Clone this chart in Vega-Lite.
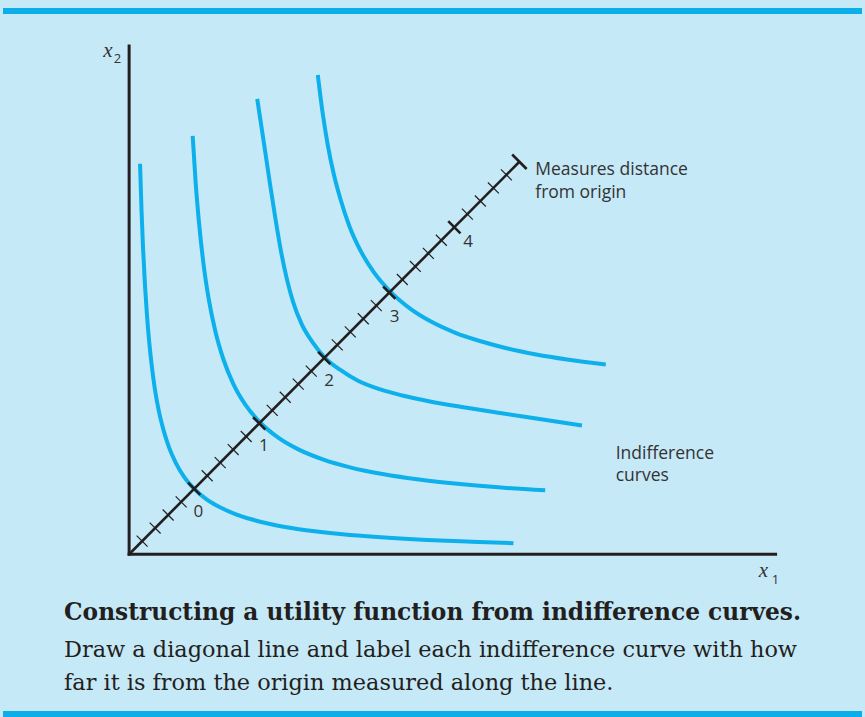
{
  "$schema": "https://vega.github.io/schema/vega-lite/v6.json",
  "width": 865,
  "height": 717,
  "autosize": {"type": "fit", "contains": "padding"},
  "padding": 0,
  "background": "#c6e9f8",
  "config": {"view": {"stroke": null}},
  "datasets": {
    "curves": [
      {"curve": 0, "x": 1.1, "y": 39.1}, {"curve": 0, "x": 1.25, "y": 34.4}, {"curve": 0, "x": 1.4, "y": 30.7}, {"curve": 0, "x": 1.6, "y": 26.9}, {"curve": 0, "x": 1.8, "y": 23.9}, {"curve": 0, "x": 2.0, "y": 21.5}, {"curve": 0, "x": 2.3, "y": 18.7}, {"curve": 0, "x": 2.6, "y": 16.5}, {"curve": 0, "x": 3.0, "y": 14.3}, {"curve": 0, "x": 3.5, "y": 12.3}, {"curve": 0, "x": 4.0, "y": 10.75}, {"curve": 0, "x": 4.7, "y": 9.15}, {"curve": 0, "x": 5.5, "y": 7.8}, {"curve": 0, "x": 6.56, "y": 6.55}, {"curve": 0, "x": 7.8, "y": 5.5}, {"curve": 0, "x": 9.15, "y": 4.7}, {"curve": 0, "x": 10.75, "y": 4.0}, {"curve": 0, "x": 12.3, "y": 3.5}, {"curve": 0, "x": 14.3, "y": 3.0}, {"curve": 0, "x": 16.5, "y": 2.6}, {"curve": 0, "x": 18.7, "y": 2.3}, {"curve": 0, "x": 21.5, "y": 2.0}, {"curve": 0, "x": 25.0, "y": 1.72}, {"curve": 0, "x": 30.0, "y": 1.43}, {"curve": 0, "x": 34.5, "y": 1.25}, {"curve": 0, "x": 38.7, "y": 1.11},
      {"curve": 1, "x": 6.4, "y": 41.9}, {"curve": 1, "x": 6.7, "y": 37.2}, {"curve": 1, "x": 7.0, "y": 33.6}, {"curve": 1, "x": 7.5, "y": 29.0}, {"curve": 1, "x": 8.0, "y": 25.65}, {"curve": 1, "x": 8.7, "y": 22.25}, {"curve": 1, "x": 9.5, "y": 19.5}, {"curve": 1, "x": 10.5, "y": 17.04}, {"curve": 1, "x": 11.7, "y": 14.98}, {"curve": 1, "x": 13.19, "y": 13.19}, {"curve": 1, "x": 14.98, "y": 11.7}, {"curve": 1, "x": 17.04, "y": 10.5}, {"curve": 1, "x": 19.5, "y": 9.5}, {"curve": 1, "x": 22.25, "y": 8.7}, {"curve": 1, "x": 25.65, "y": 8.0}, {"curve": 1, "x": 29.0, "y": 7.5}, {"curve": 1, "x": 33.6, "y": 7.0}, {"curve": 1, "x": 37.2, "y": 6.7}, {"curve": 1, "x": 41.9, "y": 6.4},
      {"curve": 2, "x": 12.9, "y": 45.6}, {"curve": 2, "x": 13.6, "y": 41.0}, {"curve": 2, "x": 14.2, "y": 37.0}, {"curve": 2, "x": 14.75, "y": 33.5}, {"curve": 2, "x": 15.3, "y": 30.3}, {"curve": 2, "x": 15.9, "y": 27.5}, {"curve": 2, "x": 16.5, "y": 25.3}, {"curve": 2, "x": 17.4, "y": 23.0}, {"curve": 2, "x": 18.5, "y": 21.2}, {"curve": 2, "x": 19.7, "y": 19.7}, {"curve": 2, "x": 21.2, "y": 18.5}, {"curve": 2, "x": 23.0, "y": 17.4}, {"curve": 2, "x": 25.3, "y": 16.5}, {"curve": 2, "x": 27.5, "y": 15.9}, {"curve": 2, "x": 30.3, "y": 15.3}, {"curve": 2, "x": 33.5, "y": 14.75}, {"curve": 2, "x": 37.0, "y": 14.2}, {"curve": 2, "x": 41.0, "y": 13.6}, {"curve": 2, "x": 45.6, "y": 12.9},
      {"curve": 3, "x": 19.0, "y": 48.0}, {"curve": 3, "x": 19.5, "y": 44.1}, {"curve": 3, "x": 20.0, "y": 41.0}, {"curve": 3, "x": 20.6, "y": 38.1}, {"curve": 3, "x": 21.3, "y": 35.5}, {"curve": 3, "x": 22.2, "y": 32.8}, {"curve": 3, "x": 23.3, "y": 30.4}, {"curve": 3, "x": 24.6, "y": 28.3}, {"curve": 3, "x": 26.3, "y": 26.3}, {"curve": 3, "x": 28.3, "y": 24.6}, {"curve": 3, "x": 30.4, "y": 23.3}, {"curve": 3, "x": 32.8, "y": 22.2}, {"curve": 3, "x": 35.5, "y": 21.3}, {"curve": 3, "x": 38.1, "y": 20.6}, {"curve": 3, "x": 41.0, "y": 20.0}, {"curve": 3, "x": 44.1, "y": 19.5}, {"curve": 3, "x": 48.0, "y": 19.0}
    ],
    "axes": [
      {"x": 0, "y": 0, "x2": 0, "y2": 50.9},
      {"x": 0, "y": 0, "x2": 65.1, "y2": 0}
    ],
    "diagonal": [{"x": 0, "y": 0, "x2": 39.3, "y2": 39.3}],
    "minorTicks": [
      {"c": 1.31}, {"c": 2.62}, {"c": 3.93}, {"c": 5.24}, {"c": 7.86}, {"c": 9.17}, {"c": 10.48}, {"c": 11.79}, {"c": 14.41}, {"c": 15.72}, {"c": 17.03}, {"c": 18.34}, {"c": 20.96}, {"c": 22.27}, {"c": 23.58}, {"c": 24.89}, {"c": 27.51}, {"c": 28.82}, {"c": 30.13}, {"c": 31.44}, {"c": 34.06}, {"c": 35.37}, {"c": 36.68}, {"c": 37.99}
    ],
    "majorTicks": [{"c": 6.55, "label": "0"}, {"c": 13.1, "label": "1"}, {"c": 19.65, "label": "2"}, {"c": 26.2, "label": "3"}, {"c": 32.75, "label": "4"}],
    "endTick": [{"c": 39.3}],
    "numLabels": [
      {"x": 6.97, "y": 4.2, "text": "0"}, {"x": 13.57, "y": 10.83, "text": "1"}, {"x": 20.13, "y": 17.33, "text": "2"}, {"x": 26.73, "y": 23.77, "text": "3"}, {"x": 34.13, "y": 31.23, "text": "4"}
    ],
    "notes": [
      {"x": 40.9, "y": 37.95, "text": "Measures distance"}, {"x": 40.9, "y": 35.7, "text": "from origin"},
      {"x": 49.0, "y": 9.55, "text": "Indifference"}, {"x": 49.0, "y": 7.35, "text": "curves"}
    ],
    "axisVars": [{"x": 63.4, "y": -2.3, "text": "x"}, {"x": -2.6, "y": 49.8, "text": "x"}],
    "axisSubs": [{"x": 64.7, "y": -3.0, "text": "1"}, {"x": -1.55, "y": 49.2, "text": "2"}],
    "captionBold": [{"x": -6.55, "y": -6.6, "text": "Constructing a utility function from indifference curves."}],
    "captionBody": [{"x": -6.55, "y": -10.25, "text": "Draw a diagonal line and label each indifference curve with how"}, {"x": -6.55, "y": -13.55, "text": "far it is from the origin measured along the line."}],
    "bands": [{"y": 54.4}, {"y": -16.0}]
  },
  "encoding": {
    "x": {"field": "x", "type": "quantitative", "scale": {"domain": [-12.7, 73.8], "nice": false, "zero": false}, "axis": null},
    "y": {"field": "y", "type": "quantitative", "scale": {"domain": [-16.2, 55.5], "nice": false, "zero": false}, "axis": null}
  },
  "layer": [
    {"data": {"name": "bands"}, "mark": {"type": "rule", "color": "#0aaee8", "strokeWidth": 6}, "encoding": {"x": null}},
    {"data": {"name": "curves"}, "mark": {"type": "line", "color": "#0db0ea", "strokeWidth": 4, "interpolate": "monotone", "strokeCap": "butt"}, "encoding": {"detail": {"field": "curve"}}},
    {"data": {"name": "axes"}, "mark": {"type": "rule", "color": "#231f20", "strokeWidth": 3, "strokeCap": "square"}, "encoding": {"x2": {"field": "x2"}, "y2": {"field": "y2"}}},
    {"data": {"name": "diagonal"}, "mark": {"type": "rule", "color": "#231f20", "strokeWidth": 2.6}, "encoding": {"x2": {"field": "x2"}, "y2": {"field": "y2"}}},
    {"data": {"name": "minorTicks"}, "mark": {"type": "point", "shape": "M-1,-1L1,1", "size": 120, "filled": false, "stroke": "#231f20", "strokeWidth": 1.2, "opacity": 1}, "encoding": {"x": {"field": "c", "type": "quantitative"}, "y": {"field": "c", "type": "quantitative"}}},
    {"data": {"name": "majorTicks"}, "mark": {"type": "point", "shape": "M-1,-1L1,1", "size": 150, "filled": false, "stroke": "#231f20", "strokeWidth": 2.6, "opacity": 1}, "encoding": {"x": {"field": "c", "type": "quantitative"}, "y": {"field": "c", "type": "quantitative"}}},
    {"data": {"name": "endTick"}, "mark": {"type": "point", "shape": "M-1,-1L1,1", "size": 210, "filled": false, "stroke": "#231f20", "strokeWidth": 2.6, "opacity": 1}, "encoding": {"x": {"field": "c", "type": "quantitative"}, "y": {"field": "c", "type": "quantitative"}}},
    {"data": {"name": "numLabels"}, "mark": {"type": "text", "font": "Open Sans", "fontSize": 17, "color": "#333333", "align": "center", "baseline": "middle"}, "encoding": {"text": {"field": "text"}}},
    {"data": {"name": "notes"}, "mark": {"type": "text", "font": "Open Sans", "fontSize": 17.5, "color": "#333333", "align": "left", "baseline": "alphabetic"}, "encoding": {"text": {"field": "text"}}},
    {"data": {"name": "axisVars"}, "mark": {"type": "text", "font": "Liberation Serif", "fontStyle": "italic", "fontSize": 21, "color": "#333333", "align": "left", "baseline": "alphabetic"}, "encoding": {"text": {"field": "text"}}},
    {"data": {"name": "axisSubs"}, "mark": {"type": "text", "font": "Open Sans", "fontSize": 13, "color": "#333333", "align": "left", "baseline": "alphabetic"}, "encoding": {"text": {"field": "text"}}},
    {"data": {"name": "captionBold"}, "mark": {"type": "text", "font": "DejaVu Serif", "fontWeight": "bold", "fontSize": 23.3, "color": "#231f20", "align": "left", "baseline": "alphabetic"}, "encoding": {"text": {"field": "text"}}},
    {"data": {"name": "captionBody"}, "mark": {"type": "text", "font": "DejaVu Serif", "fontSize": 22.4, "color": "#231f20", "align": "left", "baseline": "alphabetic"}, "encoding": {"text": {"field": "text"}}}
  ]
}
